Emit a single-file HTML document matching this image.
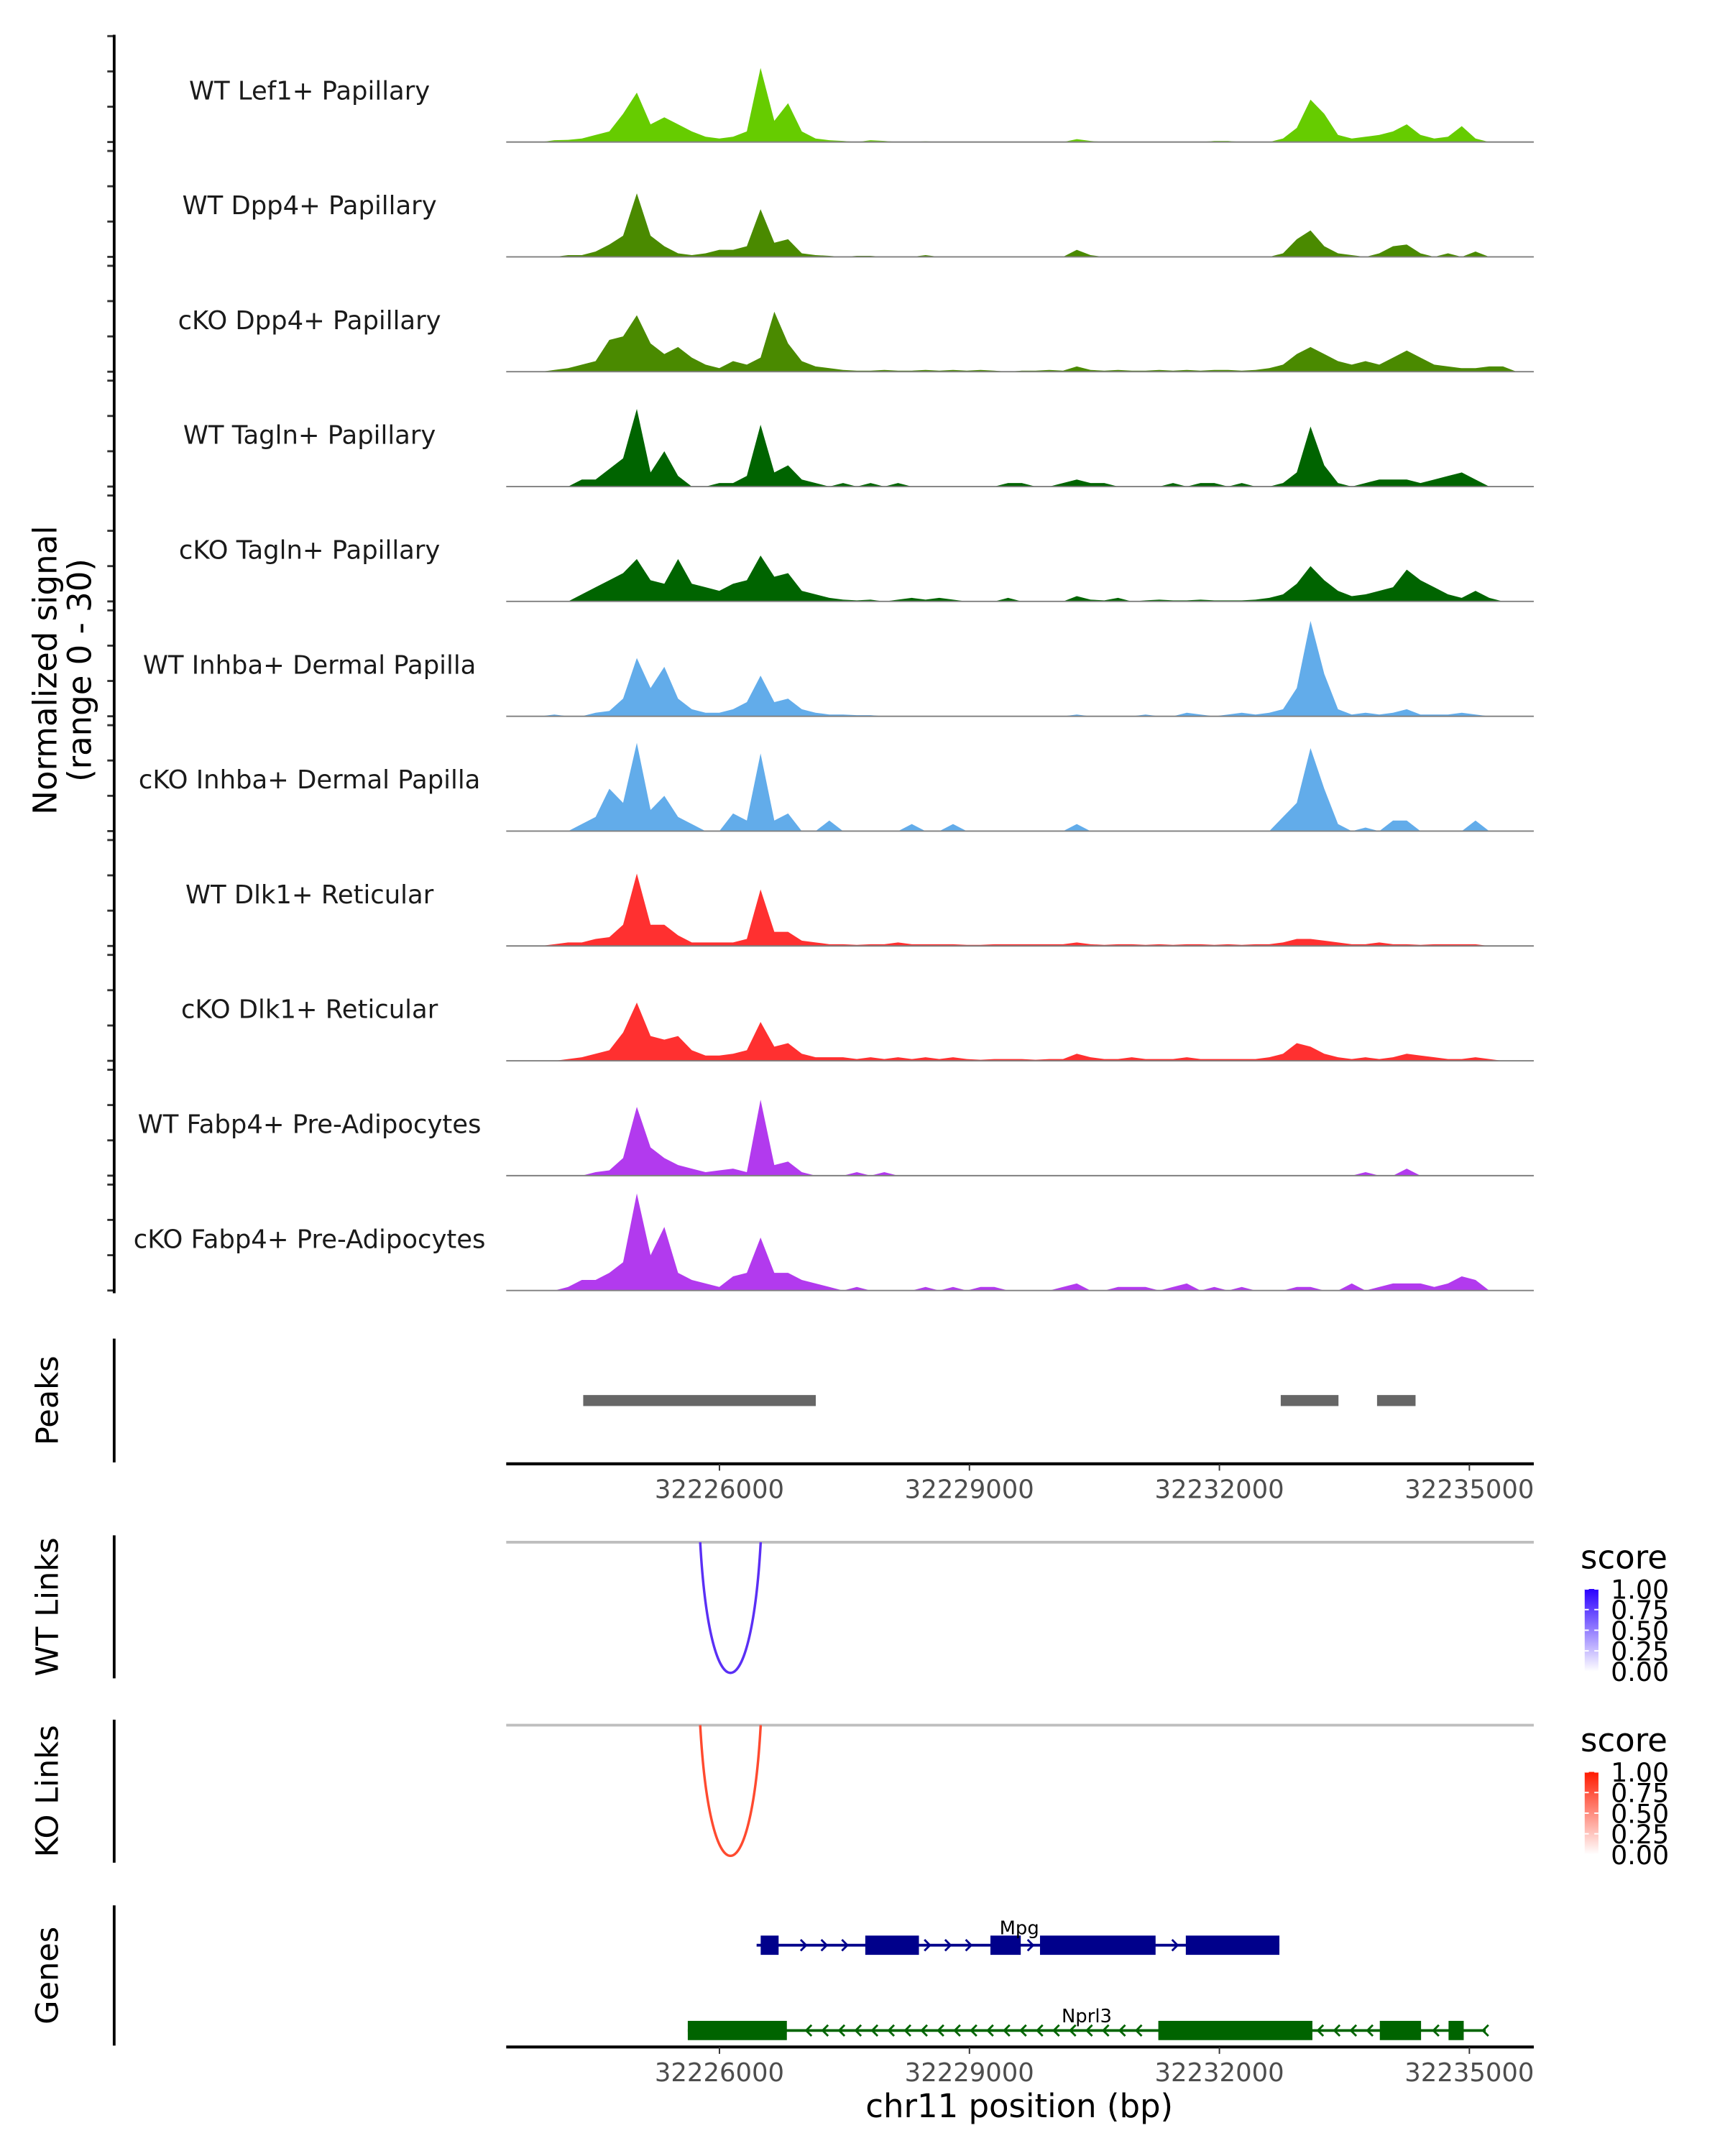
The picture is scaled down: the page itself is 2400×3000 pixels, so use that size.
<!DOCTYPE html>
<html><head><meta charset="utf-8"><style>
html,body{margin:0;padding:0;background:#fff;}
svg{display:block;font-family:"DejaVu Sans","Liberation Sans",sans-serif;}
</style></head><body>
<svg id="chart" xmlns="http://www.w3.org/2000/svg" width="2400" height="3000" viewBox="0 0 1254 1567">
<rect width="1254" height="1567" fill="#fff"/>
<g id="tracks"></g>
<g id="axes"></g>
<g id="genes"></g>
</svg>
<script>
// ---------- data ----------
const regionStart = 32223441;
const regionEnd = 32235773;
const binSize = 165;
const trackNames = ["WT Lef1+ Papillary","WT Dpp4+ Papillary","cKO Dpp4+ Papillary","WT Tagln+ Papillary","cKO Tagln+ Papillary","WT Inhba+ Dermal Papilla","cKO Inhba+ Dermal Papilla","WT Dlk1+ Reticular","cKO Dlk1+ Reticular","WT Fabp4+ Pre-Adipocytes","cKO Fabp4+ Pre-Adipocytes"];
const trackColors = ["#66cc00","#4a8a00","#4a8a00","#006400","#006400","#62acea","#62acea","#ff3030","#ff3030","#b23aee","#b23aee"];
const sigLef1WT = [0,0,0,0.5,0.6,1,2,3,8,14,5,7,5,3,1.5,1,1.5,3,21,6,11,3,1,0.5,0.3,0,0.5,0.3,0,0,0.2,0,0,0,0,0,0,0,0,0,0,0.8,0.3,0,0,0,0,0,0,0,0,0.3,0.3,0,0,0,1,4,12,8,2,1,1.5,2,3,5,2,1,1.5,4.5,1,0,0,0,0];
const sigDpp4WT = [0,0,0,0,0.5,0.5,1.5,3.5,6,18,6,3,1,0.5,1,2,2,3,13.5,4,5,1,0.5,0.3,0,0.3,0.3,0,0,0,0.5,0,0,0,0,0,0,0,0,0,0,2,0.5,0,0,0,0,0,0,0,0,0,0,0,0,0,1,5,7.5,3,1,0.5,0,1,3,3.5,1,0,1,0,1.5,0,0,0,0];
const sigDpp4KO = [0,0,0,0.5,1,2,3,9,10,16,8,5,7,4,2,1,3,2,4,17,8,3,1.5,1,0.5,0.3,0.3,0.5,0.3,0.3,0.5,0.3,0.5,0.3,0.5,0.3,0,0.3,0.3,0.5,0.3,1.5,0.5,0.3,0.5,0.3,0.3,0.5,0.3,0.5,0.3,0.5,0.5,0.3,0.5,1,2,5,7,5,3,2,3,2,4,6,4,2,1.5,1,1,1.5,1.5,0,0];
const sigTaglnWT = [0,0,0,0,0,2,2,5,8,22,4,10,3,0,0,1,1,3,17.5,4,6,2,1,0,1,0,1,0,1,0,0,0,0,0,0,0,1,1,0,0,1,2,1,1,0,0,0,0,1,0,1,1,0,1,0,0,1,4,17,6,1,0,1,2,2,2,1,2,3,4,2,0,0,0,0];
const sigTaglnKO = [0,0,0,0,0,2,4,6,8,12,6,5,12,5,4,3,5,6,13,7,8,3,2,1,0.5,0.3,0.5,0,0.5,1,0.5,1,0.5,0,0,0,1,0,0,0,0,1.5,0.5,0.3,1,0,0.3,0.5,0.3,0.3,0.5,0.3,0.3,0.3,0.5,1,2,5,10,6,3,1.5,2,3,4,9,6,4,2,1,3,1,0,0,0];
const sigInhbaWT = [0,0,0,0.5,0,0,1,1.5,5,16.5,8,14,5,2,1,1,2,4,11.5,4,5,2,1,0.5,0.5,0.3,0.3,0,0,0,0,0,0,0,0,0,0,0,0,0,0,0.5,0,0,0,0,0.5,0,0,1,0.5,0,0.5,1,0.5,1,2,8,27,12,2,0.5,1,0.5,1,2,0.5,0.5,0.5,1,0.5,0,0,0,0];
const sigInhbaKO = [0,0,0,0,0,2,4,12,8,25,6,10,4,2,0,0,5,3,22,3,5,0,0,3,0,0,0,0,0,2,0,0,2,0,0,0,0,0,0,0,0,2,0,0,0,0,0,0,0,0,0,0,0,0,0,0,4,8,23.5,12,2,0,1,0,3,3,0,0,0,0,3,0,0,0,0];
const sigDlk1WT = [0,0,0,0.5,1,1,2,2.5,6,20.5,6,6,3,1,1,1,1,2,16,4,4,1.5,1,0.5,0.5,0.3,0.5,0.5,1,0.5,0.5,0.5,0.5,0.3,0.3,0.5,0.5,0.5,0.5,0.5,0.5,1,0.5,0.3,0.5,0.5,0.3,0.5,0.3,0.5,0.5,0.3,0.5,0.3,0.5,0.5,1,2,2,1.5,1,0.5,0.5,1,0.5,0.5,0.3,0.5,0.5,0.5,0.5,0,0,0,0];
const sigDlk1KO = [0,0,0,0,0.5,1,2,3,8,16.5,7,6,7,3,1.5,1.5,2,3,11,4,5,2,1,1,1,0.5,1,0.5,1,0.5,1,0.5,1,0.5,0.3,0.5,0.5,0.5,0.3,0.5,0.5,2,1,0.5,0.5,1,0.5,0.5,0.5,1,0.5,0.5,0.5,0.5,0.5,1,2,5,4,2,1,0.5,1,0.5,1,2,1.5,1,0.5,0.5,1,0.5,0,0,0];
const sigFabp4WT = [0,0,0,0,0,0,1,1.5,5,19.5,8,5,3,2,1,1.5,2,1,21.5,3,4,1,0,0,0,1,0,1,0,0,0,0,0,0,0,0,0,0,0,0,0,0,0,0,0,0,0,0,0,0,0,0,0,0,0,0,0,0,0,0,0,0,1,0,0,2,0,0,0,0,0,0,0,0,0];
const sigFabp4KO = [0,0,0,0,1,3,3,5,8,27.5,10,18,5,3,2,1,4,5,15,5,5,3,2,1,0,1,0,0,0,0,1,0,1,0,1,1,0,0,0,0,1,2,0,0,1,1,1,0,1,2,0,1,0,1,0,0,0,1,1,0,0,2,0,1,2,2,2,1,2,4,3,0,0,0,0];
const signals = [sigLef1WT,sigDpp4WT,sigDpp4KO,sigTaglnWT,sigTaglnKO,sigInhbaWT,sigInhbaKO,sigDlk1WT,sigDlk1KO,sigFabp4WT,sigFabp4KO];
const axisTicks = [32226000,32229000,32232000,32235000];
const peakStarts = [32224365,32232736,32233892];
const peakEnds = [32227156,32233429,32234354];
const wtLinkStart = [32225769], wtLinkEnd = [32226495], wtLinkScore = [0.9];
const koLinkStart = [32225769], koLinkEnd = [32226495], koLinkScore = [0.85];
const mpgSpan = [32226446,32232720];
const mpgExonStarts = [32226495,32227750,32229252,32229847,32231597];
const mpgExonEnds = [32226710,32228394,32229616,32231234,32232720];
const nprl3Span = [32225620,32235196];
const nprl3ExonStarts = [32225620,32231267,32233925,32234750];
const nprl3ExonEnds = [32226809,32233116,32234420,32234932];
const legendTicks = ["1.00","0.75","0.50","0.25","0.00"];

// ---------- scales ----------
const NS="http://www.w3.org/2000/svg";
const X0=368, X1=1115;
function xs(p){return X0+(p-regionStart)/(regionEnd-regionStart)*(X1-X0);}
const trackBase0=103, trackStep=83.5, yUnit=77/30;
function el(tag,attrs,parent,text){const e=document.createElementNS(NS,tag);for(const k in attrs)e.setAttribute(k,attrs[k]);if(text!==undefined)e.textContent=text;parent.appendChild(e);return e;}

const tracks=document.getElementById('tracks');
const axes=document.getElementById('axes');
const genes=document.getElementById('genes');

signals.forEach((sig,t)=>{
  const base=trackBase0+t*trackStep;
  let d="M"+xs(regionStart+0.5*binSize)+","+base;
  sig.forEach((v,i)=>{d+=" L"+xs(regionStart+(i+0.5)*binSize).toFixed(2)+","+(base-v*yUnit).toFixed(2);});
  d+=" L"+xs(regionStart+(sig.length-0.5)*binSize).toFixed(2)+","+base+" Z";
  const a=el('path',{d:d,fill:trackColors[t]},tracks);
  
  
  const bl=el('line',{x1:X0,x2:X1,y1:base,y2:base,stroke:'#7f7f7f','stroke-width':1},tracks);
  
  
  const lb=el('text',{x:225,y:base-31,'font-size':18.5,'text-anchor':'middle',fill:'#1a1a1a'},tracks,trackNames[t]);
  
  
  [0,10,20,30].forEach(v=>{
    const tk=el('line',{x1:78,x2:83,y1:base-v*yUnit,y2:base-v*yUnit,stroke:'#333','stroke-width':1.5},axes);
    
    
  });
});
// left axes
[[25,940],[973,1063],[1116,1220],[1250,1354],[1385,1487]].forEach(r=>{
  const l=el('line',{x1:83,x2:83,y1:r[0],y2:r[1],stroke:'#000','stroke-width':2},axes);
  
  
});
let yt=el('text',{transform:'translate(45,487) rotate(-90)','font-size':23.5,'text-anchor':'middle'},axes);


el('tspan',{x:0,dy:-4},yt,"Normalized signal");
el('tspan',{x:0,dy:25},yt,"(range 0 - 30)");
[["Peaks",1018],["WT Links",1168],["KO Links",1302],["Genes",1436]].forEach(p=>{
  const t=el('text',{transform:'translate(42,'+p[1]+') rotate(-90)','font-size':22.5,'text-anchor':'middle'},axes,p[0]);
  
  
});
// peaks
peakStarts.forEach((s,i)=>{
  const r=el('rect',{x:xs(s),y:1014,width:xs(peakEnds[i])-xs(s),height:8,fill:'#666'},axes);
  
  
});
// x axes
[1064,1488].forEach(y=>{
  const l=el('line',{x1:X0,x2:X1,y1:y,y2:y,stroke:'#000','stroke-width':2.2},axes);
  
  
  axisTicks.forEach(v=>{
    const tk=el('line',{x1:xs(v),x2:xs(v),y1:y,y2:y+5,stroke:'#333','stroke-width':1},axes);
    
    
    const tl=el('text',{x:xs(v),y:y+25,'font-size':18.5,'text-anchor':'middle',fill:'#4d4d4d'},axes,String(v));
    
    
  });
});
const xt=el('text',{x:741,y:1539,'font-size':23.5,'text-anchor':'middle'},axes,"chr11 position (bp)");


// links
function linkPanel(top,starts,ends,color,gid,c0,c1){
  const g=el('line',{x1:X0,x2:X1,y1:top,y2:top,stroke:'#bebebe','stroke-width':2},axes);
  
  
  starts.forEach((s,i)=>{
    const a=xs(s),b=xs(ends[i]),depth=95/0.75;
    const p=el('path',{d:`M${a},${top} C${a+(b-a)*0.16},${top+depth} ${b-(b-a)*0.16},${top+depth} ${b},${top}`,fill:'none',stroke:color,'stroke-width':1.8},axes);
    
    
  });
  const defs=el('defs',{},axes);
  const lg=el('linearGradient',{id:gid,x1:0,y1:1,x2:0,y2:0},defs);
  el('stop',{offset:0,'stop-color':c0},lg);el('stop',{offset:1,'stop-color':c1},lg);
  const ly=top+19;
  const st=el('text',{x:1149,y:ly,'font-size':23.5},axes,"score");
  
  
  const cb=el('rect',{x:1152,y:ly+15,width:10,height:60,fill:`url(#${gid})`},axes);
  
  
  legendTicks.forEach((t,i)=>{
    const yy=ly+15+i*15;
    el('line',{x1:1152,x2:1155,y1:yy,y2:yy,stroke:'#fff'},axes);el('line',{x1:1159,x2:1162,y1:yy,y2:yy,stroke:'#fff'},axes);
    const lt=el('text',{x:1171,y:yy+7,'font-size':19},axes,t);
    
    
  });
}
linkPanel(1121,wtLinkStart,wtLinkEnd,'#5a2ff5','gwt','#ffffff','#2a00ff');
linkPanel(1254,koLinkStart,koLinkEnd,'#ff4a2f','gko','#ffffff','#ff1a00');
// genes
function gene(span,es,ee,y,color,dir,name,lx,ly){
  const l=el('line',{x1:xs(span[0]),x2:xs(span[1]),y1:y,y2:y,stroke:color,'stroke-width':2},genes);
  
  
  for(let x=xs(span[0])+4;x<xs(span[1]);x+=dir>0?15:12){
    let inExon=false;es.forEach((s,i)=>{if(x>xs(s)-4&&x<xs(ee[i])+4)inExon=true;});
    if(inExon)continue;
    el('path',{d:dir>0?`M${x-2},${y-4} L${x+2},${y} L${x-2},${y+4}`:`M${x+2},${y-4} L${x-2},${y} L${x+2},${y+4}`,fill:'none',stroke:color,'stroke-width':1.5},genes);
  }
  es.forEach((s,i)=>{
    const r=el('rect',{x:xs(s),y:y-7,width:xs(ee[i])-xs(s),height:14,fill:color},genes);
    
    
  });
  const t=el('text',{x:lx,y:ly,'font-size':13.5,'text-anchor':'middle'},genes,name);
  
  
}
gene(mpgSpan,mpgExonStarts,mpgExonEnds,1414,'#00008b',1,'Mpg',741,1406);
gene(nprl3Span,nprl3ExonStarts,nprl3ExonEnds,1476,'#006400',-1,'Nprl3',790,1470);
</script>
</body></html>
